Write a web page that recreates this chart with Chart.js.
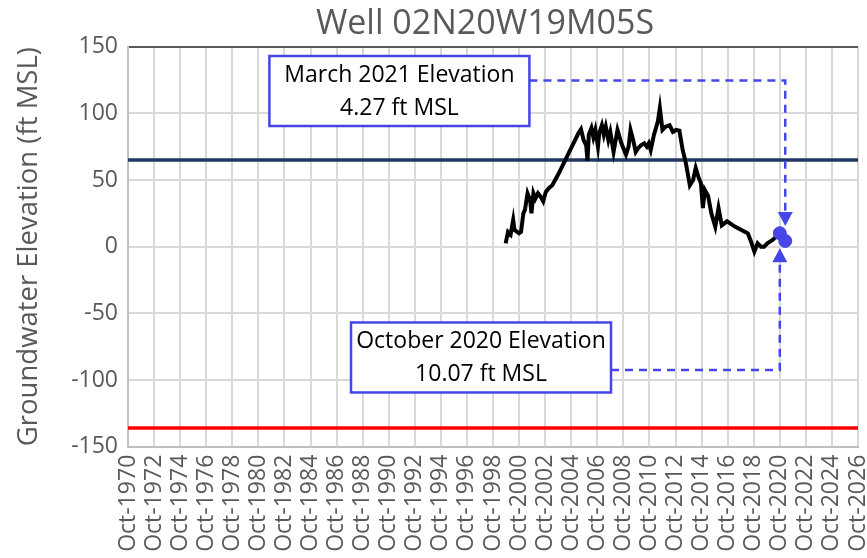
<!DOCTYPE html>
<html>
<head>
<meta charset="utf-8">
<script src="https://cdn.jsdelivr.net/npm/chart.js@4.4.1/dist/chart.umd.min.js"></script>
<style>
  html, body { margin: 0; padding: 0; background: #fff; }
  #wrap { width: 867px; height: 558px; }
</style>
</head>
<body>
<div id="wrap"><canvas id="wellChart"></canvas></div>
<script>
// decimal years (Oct = .75) and groundwater elevation, ft MSL
const dates = [
  1999.72, 1999.9, 2000.1, 2000.3, 2000.4, 2000.75, 2000.9, 2001.08, 2001.2, 2001.4,
  2001.6, 2001.7, 2001.85, 2002.0, 2002.2, 2002.4, 2002.6, 2002.8, 2003.05, 2003.3,
  2003.8, 2004.3, 2004.8, 2005.3, 2005.5, 2005.7, 2005.9, 2006.0, 2006.1, 2006.3,
  2006.45, 2006.6, 2006.8, 2006.9, 2007.1, 2007.25, 2007.4, 2007.6, 2007.75, 2008.0,
  2008.3, 2008.6, 2008.95, 2009.15, 2009.3, 2009.5, 2009.7, 2009.9, 2010.1, 2010.35,
  2010.55, 2010.7, 2010.85, 2011.1, 2011.4, 2011.55, 2011.75, 2012.0, 2012.3, 2012.55,
  2012.8, 2013.05, 2013.3, 2013.55, 2013.85, 2014.1, 2014.3, 2014.5, 2014.7, 2014.85,
  2015.0, 2015.25, 2015.5, 2015.8, 2016.05, 2016.3, 2016.7, 2017.3, 2018.1, 2018.3,
  2018.55, 2018.8, 2019.05, 2019.3, 2019.55, 2019.8, 2020.2, 2020.75, 2021.17
];
const elevations = [
  2.5, 11, 9, 20, 12.5, 10, 11, 25, 27.5, 40,
  35, 25, 40, 36, 40, 37.5, 34, 41, 44, 46,
  55, 65, 75, 85, 88, 80, 76, 64.5, 84, 89,
  82, 87.5, 75, 85, 91, 84, 90, 80, 86, 71,
  87.5, 77.5, 69, 75, 87.5, 80, 71, 74, 76, 77.5,
  75, 77.5, 72.5, 84, 94, 104, 87.5, 90, 91, 86,
  87.5, 87, 72.5, 62.5, 46, 50, 59, 52.5, 47.5, 29,
  42.5, 38, 25, 15, 29, 16, 19, 15, 11, 10,
  3.7, -3.7, 2.5, 0, 0, 2.5, 5, 10.07, 4.27
];
const highlightDates = [2020.75, 2021.17];
const highlightValues = [10.07, 4.27];
const upperReference = 65;
const lowerReference = -136;
const tickYears = [1970, 1972, 1974, 1976, 1978, 1980, 1982, 1984, 1986, 1988, 1990, 1992, 1994, 1996,
  1998, 2000, 2002, 2004, 2006, 2008, 2010, 2012, 2014, 2016, 2018, 2020, 2022, 2024, 2026];
const yTicks = [-150, -100, -50, 0, 50, 100, 150];

const xMin = tickYears[0] + 0.75;
const xMax = tickYears[tickYears.length - 1] + 0.75;
const FONT = "'Open Sans', sans-serif";
const BLUE = '#4646e6';

const toPoints = (xs, ys) => xs.map((x, i) => ({ x: x, y: ys[i] }));

// text boxes with dashed arrows pointing at the highlighted readings
const calloutPlugin = {
  id: 'callouts',
  afterDraw(chart, args, opts) {
    const ctx = chart.ctx;
    const xs = chart.scales.x, ys = chart.scales.y;

    ctx.save();
    ctx.fillStyle = '#595959';
    ctx.font = '34px ' + FONT;
    ctx.textAlign = 'center';
    ctx.textBaseline = 'middle';
    ctx.fillText('Well 02N20W19M05S', 485, 24);
    ctx.restore();

    opts.boxes.forEach(b => {
      const cx = xs.getPixelForValue(b.x), cy = ys.getPixelForValue(b.y);
      const w = 260, h = 70;
      const left = cx - w / 2, top = cy - h / 2;
      const px = xs.getPixelForValue(highlightDates[b.point]);
      const py = ys.getPixelForValue(highlightValues[b.point]);
      const ly = ys.getPixelForValue(b.lineY);
      const tipY = py + b.dir * 15;

      ctx.save();
      ctx.strokeStyle = BLUE;
      ctx.lineWidth = 2.5;
      ctx.setLineDash([8, 6]);
      ctx.beginPath();
      ctx.moveTo(left + w, ly);
      ctx.lineTo(px, ly);
      ctx.lineTo(px, tipY + b.dir * 12);
      ctx.stroke();
      ctx.setLineDash([]);
      ctx.fillStyle = BLUE;
      ctx.beginPath();
      ctx.moveTo(px, tipY);
      ctx.lineTo(px - 7.5, tipY + b.dir * 14);
      ctx.lineTo(px + 7.5, tipY + b.dir * 14);
      ctx.closePath();
      ctx.fill();

      ctx.fillStyle = '#fff';
      ctx.fillRect(left, top, w, h);
      ctx.lineWidth = 2.5;
      ctx.strokeRect(left, top, w, h);
      ctx.fillStyle = '#000';
      ctx.font = '23px ' + FONT;
      ctx.textAlign = 'center';
      ctx.textBaseline = 'middle';
      ctx.fillText(b.lines[0], cx, cy - 16);
      ctx.fillText(b.lines[1], cx, cy + 17);
      ctx.restore();
    });
  }
};

new Chart(document.getElementById('wellChart').getContext('2d'), {
  type: 'scatter',
  data: {
    datasets: [
      {
        label: 'Highlighted',
        data: toPoints(highlightDates, highlightValues),
        backgroundColor: BLUE,
        borderColor: BLUE,
        pointRadius: 6.5,
        pointHoverRadius: 6.5
      },
      {
        label: 'Groundwater Elevation',
        data: toPoints(dates, elevations),
        showLine: true,
        borderColor: '#000',
        borderWidth: 4,
        pointRadius: 0,
        tension: 0
      },
      {
        label: 'Upper',
        data: toPoints([xMin, xMax], [upperReference, upperReference]),
        showLine: true,
        borderColor: '#1f3864',
        borderWidth: 3.5,
        pointRadius: 0
      },
      {
        label: 'Lower',
        data: toPoints([xMin, xMax], [lowerReference, lowerReference]),
        showLine: true,
        borderColor: '#ff0000',
        borderWidth: 3.5,
        pointRadius: 0
      }
    ]
  },
  options: {
    responsive: true,
    maintainAspectRatio: false,
    animation: false,
    layout: { padding: { top: 46.6, right: 9, left: 0, bottom: 0 } },
    plugins: {
      legend: { display: false },
      tooltip: { enabled: false },
      callouts: {
        boxes: [
          { x: 1991.57, y: 116.7, lineY: 124.5, point: 1, dir: -1, lines: ['March 2021 Elevation', '4.27 ft MSL'] },
          { x: 1997.83, y: -83.1, lineY: -92.4, point: 0, dir: 1, lines: ['October 2020 Elevation', '10.07 ft MSL'] }
        ]
      }
    },
    scales: {
      x: {
        type: 'linear',
        min: xMin,
        max: xMax,
        afterBuildTicks: scale => { scale.ticks = tickYears.map(y => ({ value: y + 0.75 })); },
        afterFit: scale => { scale.height = 111.3; scale.paddingLeft = 0; scale.paddingRight = 0; },
        ticks: {
          autoSkip: false,
          minRotation: 90,
          maxRotation: 90,
          padding: 8,
          color: '#595959',
          font: { family: FONT, size: 23 },
          callback: v => 'Oct-' + Math.round(v - 0.75)
        },
        grid: { color: '#d9d9d9', lineWidth: 2, drawTicks: false },
        border: { color: '#bfbfbf', width: 2 }
      },
      y: {
        min: -150,
        max: 150,
        afterBuildTicks: scale => { scale.ticks = yTicks.map(v => ({ value: v })); },
        afterFit: scale => { scale.width = 128; scale.paddingTop = 0; scale.paddingBottom = 0; },
        ticks: {
          padding: 10,
          color: '#595959',
          font: { family: FONT, size: 23 }
        },
        grid: {
          color: c => (c.tick && c.tick.value === 150 ? '#595959' : '#d9d9d9'),
          lineWidth: 2,
          drawTicks: false
        },
        border: { color: '#bfbfbf', width: 2 },
        title: {
          display: true,
          text: 'Groundwater Elevation (ft MSL)',
          color: '#595959',
          font: { family: FONT, size: 27.5 },
          padding: { top: 13, bottom: 0 }
        }
      }
    }
  },
  plugins: [calloutPlugin]
});
</script>
</body>
</html>
